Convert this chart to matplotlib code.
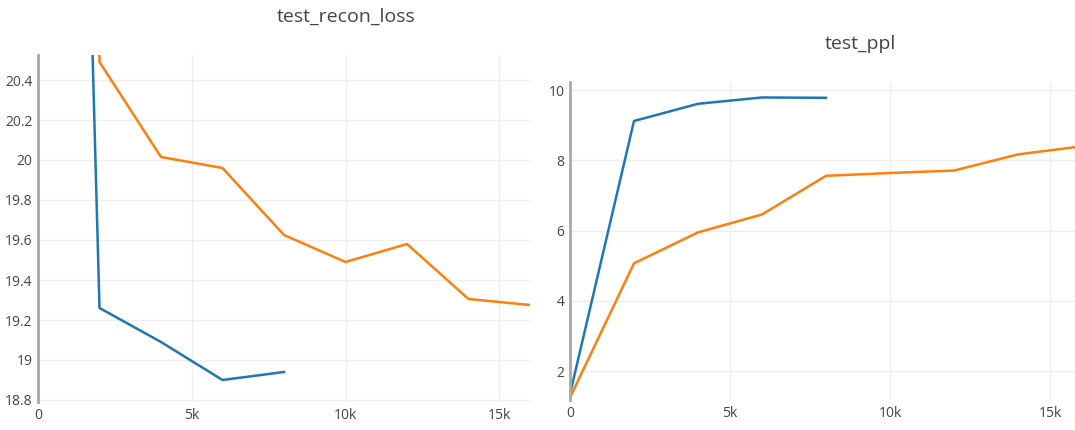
import matplotlib
matplotlib.use("Agg")
import matplotlib.pyplot as plt
from matplotlib.ticker import FuncFormatter, FixedLocator

# recon loss per evaluation step
recon_steps_blue = [0, 2000, 4000, 6000, 8000]
recon_blue = [30.5, 19.26, 19.09, 18.90, 18.94]
recon_steps_orange = [0, 2000, 4000, 6000, 8000, 10000, 12000, 14000, 16000]
recon_orange = [80.0, 20.49, 20.015, 19.96, 19.625, 19.49, 19.58, 19.305, 19.275]

# perplexity per evaluation step
ppl_steps_blue = [0, 2000, 4000, 6000, 8000]
ppl_blue = [1.35, 9.12, 9.61, 9.79, 9.78]
ppl_steps_orange = [0, 2000, 4000, 6000, 8000, 10000, 12000, 14000, 16000]
ppl_orange = [1.25, 5.07, 5.95, 6.46, 7.56, 7.64, 7.71, 8.17, 8.40]

BLUE = "#1f77b4"
ORANGE = "#ff7f0e"
TXT = "#444444"
GRID = "#eeeeee"

plt.rcParams["font.family"] = ["Open Sans", "DejaVu Sans"]

W, H = 1075, 430
fig = plt.figure(figsize=(W / 100, H / 100), dpi=100)
fig.patch.set_facecolor("white")


def ax_at(l, r, t, b):
    return fig.add_axes([l / W, 1 - b / H, (r - l) / W, (b - t) / H])


def kfmt(v, _):
    if v == 0:
        return "0"
    return f"{v / 1000:g}k"


def yfmt(v, _):
    return f"{v:g}"


def style(ax):
    for s in ["top", "right", "bottom"]:
        ax.spines[s].set_visible(False)
    ax.spines["left"].set_color("#a8a8a8")
    ax.spines["left"].set_linewidth(2)
    ax.grid(True, color=GRID, linewidth=1)
    ax.set_axisbelow(True)
    ax.tick_params(length=0, labelsize=10, labelcolor=TXT, pad=4)
    ax.xaxis.set_major_formatter(FuncFormatter(kfmt))
    ax.yaxis.set_major_formatter(FuncFormatter(yfmt))
    ax.xaxis.set_major_locator(FixedLocator([0, 5000, 10000, 15000]))


ax1 = ax_at(38, 530, 55, 402)
style(ax1)
ax1.plot(recon_steps_blue, recon_blue, color=BLUE, lw=1.8)
ax1.plot(recon_steps_orange, recon_orange, color=ORANGE, lw=1.8)
ax1.set_xlim(0, 16000)
ax1.set_ylim(18.79, 20.525)
ax1.yaxis.set_major_locator(FixedLocator([18.8, 19, 19.2, 19.4, 19.6, 19.8, 20, 20.2, 20.4]))
fig.text(346 / W, 1 - 17 / H, "test_recon_loss", ha="center", va="center",
         fontsize=14, color=TXT)

ax2 = ax_at(570, 1075, 82, 400)
style(ax2)
ax2.plot(ppl_steps_blue, ppl_blue, color=BLUE, lw=1.8)
ax2.plot(ppl_steps_orange, ppl_orange, color=ORANGE, lw=1.8)
ax2.set_xlim(0, 15780)
ax2.set_ylim(1.18, 10.23)
ax2.yaxis.set_major_locator(FixedLocator([2, 4, 6, 8, 10]))
fig.text(860 / W, 1 - 44 / H, "test_ppl", ha="center", va="center",
         fontsize=14, color=TXT)

fig.savefig("out.png", dpi=100, facecolor="white")
